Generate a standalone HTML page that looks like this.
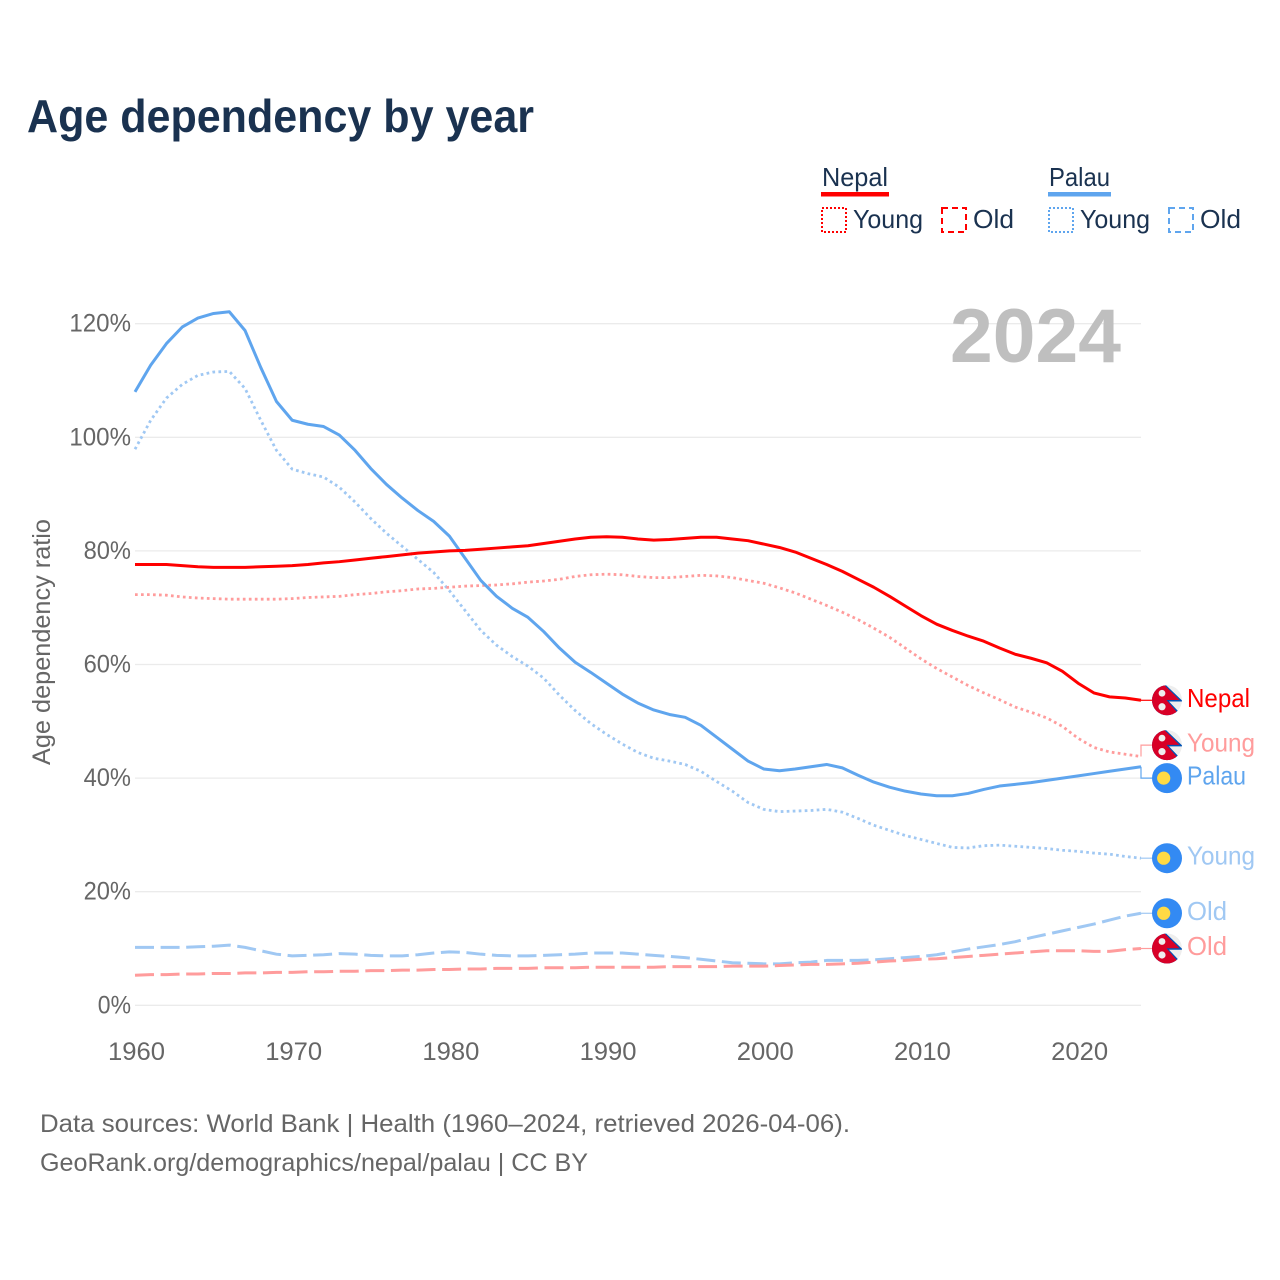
<!DOCTYPE html>
<html lang="en">
<head>
<meta charset="utf-8">
<title>Age dependency by year</title>
<style>
html,body{margin:0;padding:0;background:#fff;}
svg{display:block;font-family:"Liberation Sans",sans-serif;}
</style>
</head>
<body>
<svg id="chart" xmlns="http://www.w3.org/2000/svg" width="1280" height="1280" viewBox="0 0 1280 1280">
  <rect width="1280" height="1280" fill="#fff"/>
  <text x="27" y="132" font-size="46" font-weight="700" fill="#1a3250" textLength="507" lengthAdjust="spacingAndGlyphs">Age dependency by year</text>

  <g font-size="26" fill="#1a3250">
    <text x="822" y="186" textLength="66" lengthAdjust="spacingAndGlyphs">Nepal</text>
    <rect x="821" y="192" width="68" height="4.5" fill="#ff0000"/>
    <rect x="822" y="208" width="24" height="24" fill="none" stroke="#ff0000" stroke-width="2" stroke-dasharray="2 2"/>
    <text x="853" y="228" textLength="70" lengthAdjust="spacingAndGlyphs">Young</text>
    <rect x="942" y="208" width="24" height="24" fill="none" stroke="#ff0000" stroke-width="2" stroke-dasharray="6 4"/>
    <text x="973" y="228" textLength="41" lengthAdjust="spacingAndGlyphs">Old</text>
    <text x="1049" y="186" textLength="61" lengthAdjust="spacingAndGlyphs">Palau</text>
    <rect x="1048" y="192" width="63" height="4.5" fill="#5fa5ee"/>
    <rect x="1049" y="208" width="24" height="24" fill="none" stroke="#5fa5ee" stroke-width="2" stroke-dasharray="2 2"/>
    <text x="1080" y="228" textLength="70" lengthAdjust="spacingAndGlyphs">Young</text>
    <rect x="1169" y="208" width="24" height="24" fill="none" stroke="#5fa5ee" stroke-width="2" stroke-dasharray="6 4"/>
    <text x="1200" y="228" textLength="41" lengthAdjust="spacingAndGlyphs">Old</text>
  </g>

  <g id="grid"></g>
  <text x="950" y="362" font-size="76" font-weight="700" fill="#bfbfbf" textLength="171" lengthAdjust="spacingAndGlyphs">2024</text>
  <g id="yticks" font-size="25" fill="#666"></g>
  <g id="xticks" font-size="25" fill="#666"></g>
  <text transform="translate(50,642) rotate(-90)" text-anchor="middle" font-size="25" fill="#666" textLength="246" lengthAdjust="spacingAndGlyphs">Age dependency ratio</text>
  <g id="series" fill="none"></g>
  <g id="endlabels"></g>

  <g font-size="25" fill="#666">
    <text x="40" y="1132" textLength="810" lengthAdjust="spacingAndGlyphs">Data sources: World Bank | Health (1960–2024, retrieved 2026-04-06).</text>
    <text x="40" y="1171" textLength="548" lengthAdjust="spacingAndGlyphs">GeoRank.org/demographics/nepal/palau | CC BY</text>
  </g>
</svg>
<script>
const years = [1960,1961,1962,1963,1964,1965,1966,1967,1968,1969,1970,1971,1972,1973,1974,1975,1976,1977,1978,1979,1980,1981,1982,1983,1984,1985,1986,1987,1988,1989,1990,1991,1992,1993,1994,1995,1996,1997,1998,1999,2000,2001,2002,2003,2004,2005,2006,2007,2008,2009,2010,2011,2012,2013,2014,2015,2016,2017,2018,2019,2020,2021,2022,2023,2024];
const xTickLabels = [1960,1970,1980,1990,2000,2010,2020];
const yTickLabels = [0,20,40,60,80,100,120];

const nepalTotal = [77.6,77.6,77.6,77.4,77.2,77.1,77.1,77.1,77.2,77.3,77.4,77.6,77.9,78.1,78.4,78.7,79.0,79.3,79.6,79.8,80.0,80.1,80.3,80.5,80.7,80.9,81.3,81.7,82.1,82.4,82.5,82.4,82.1,81.9,82.0,82.2,82.4,82.4,82.1,81.8,81.2,80.6,79.8,78.7,77.6,76.4,75.0,73.6,72.0,70.3,68.6,67.1,66.0,65.0,64.1,62.9,61.8,61.1,60.3,58.8,56.7,55.0,54.3,54.1,53.7];
const nepalYoung = [72.3,72.3,72.2,71.9,71.7,71.6,71.5,71.5,71.5,71.5,71.6,71.8,71.9,72.0,72.3,72.5,72.8,73.0,73.3,73.4,73.6,73.8,73.9,74.0,74.2,74.5,74.7,75.0,75.5,75.8,75.9,75.8,75.5,75.3,75.3,75.5,75.7,75.6,75.3,74.8,74.3,73.5,72.6,71.5,70.4,69.2,67.9,66.4,64.8,62.9,61.0,59.3,57.8,56.3,55.0,53.8,52.5,51.6,50.6,49.1,47.0,45.4,44.6,44.2,43.8];
const nepalOld = [5.3,5.4,5.4,5.5,5.5,5.6,5.6,5.7,5.7,5.8,5.8,5.9,5.9,6.0,6.0,6.1,6.1,6.2,6.2,6.3,6.3,6.4,6.4,6.5,6.5,6.5,6.6,6.6,6.6,6.7,6.7,6.7,6.7,6.7,6.8,6.8,6.8,6.8,6.9,6.9,6.9,7.0,7.1,7.2,7.2,7.3,7.4,7.6,7.8,7.9,8.1,8.2,8.4,8.6,8.8,9.0,9.2,9.4,9.6,9.6,9.6,9.5,9.5,9.8,10.0];
const palauTotal = [108.0,112.7,116.5,119.4,121.0,121.8,122.1,118.8,112.3,106.3,103.0,102.3,101.9,100.4,97.7,94.5,91.7,89.3,87.1,85.2,82.6,78.7,74.8,72.0,69.9,68.3,65.8,62.9,60.4,58.6,56.7,54.8,53.2,52.0,51.2,50.7,49.3,47.2,45.1,43.0,41.6,41.3,41.6,42.0,42.4,41.8,40.5,39.3,38.4,37.7,37.2,36.9,36.9,37.3,38.0,38.6,38.9,39.2,39.6,40.0,40.4,40.8,41.2,41.6,42.0];
const palauYoung = [97.9,103.0,106.9,109.3,110.9,111.5,111.6,108.6,103.0,97.7,94.4,93.6,93.0,91.2,88.6,85.7,83.1,80.8,78.5,76.2,73.0,69.5,66.0,63.4,61.4,59.7,57.6,54.6,51.9,49.6,47.7,46.0,44.5,43.5,43.0,42.4,41.2,39.4,37.7,35.7,34.5,34.1,34.2,34.3,34.5,34.0,32.9,31.7,30.8,29.9,29.2,28.5,27.8,27.7,28.1,28.2,28.0,27.8,27.6,27.3,27.1,26.8,26.6,26.2,25.9];
const palauOld = [10.2,10.2,10.2,10.2,10.3,10.4,10.6,10.2,9.6,9.0,8.7,8.8,8.9,9.1,9.0,8.8,8.7,8.7,8.9,9.2,9.4,9.3,9.0,8.8,8.7,8.7,8.8,8.9,9.0,9.2,9.2,9.2,9.0,8.8,8.6,8.4,8.1,7.8,7.5,7.4,7.3,7.3,7.5,7.6,7.9,7.9,7.9,8.0,8.2,8.4,8.6,8.9,9.4,9.9,10.3,10.7,11.2,11.9,12.5,13.1,13.7,14.3,15.0,15.7,16.2];

const NS = 'http://www.w3.org/2000/svg';
const xLeft = 135, xRight = 1141, yZero = 1005.3, yPerUnit = 5.68;
function xScale(year) { return xLeft + (year - years[0]) * (xRight - xLeft) / (years[years.length - 1] - years[0]); }
function yScale(value) { return yZero - value * yPerUnit; }
function make(parent, tag, attrs, text) {
  const el = document.createElementNS(NS, tag);
  for (const k in attrs) el.setAttribute(k, attrs[k]);
  if (text !== undefined) el.textContent = text;
  parent.appendChild(el);
  return el;
}

const gridG = document.getElementById('grid');
const yG = document.getElementById('yticks');
const xG = document.getElementById('xticks');
const seriesG = document.getElementById('series');
const endG = document.getElementById('endlabels');

yTickLabels.forEach(function (t) {
  const line = make(gridG, 'line', {x1: xLeft, x2: xRight, y1: yScale(t), y2: yScale(t), stroke: '#ebebeb', 'stroke-width': 1.3});
  
  
  const label = make(yG, 'text', {x: 131, y: yScale(t) + 8, 'text-anchor': 'end', textLength: String(t).length * 14.2 + 19, lengthAdjust: 'spacingAndGlyphs'}, t + '%');
  
  
});

xTickLabels.forEach(function (t) {
  const label = make(xG, 'text', {x: xScale(t) + 1.5, y: 1060, 'text-anchor': 'middle', textLength: 57, lengthAdjust: 'spacingAndGlyphs'}, t);
  
  
});

const seriesList = [
  {id: 'palau-old', values: palauOld, color: '#a0c8f3', dash: '19 6.6', width: 3, label: 'Old', labelW: 40, flag: 'palau'},
  {id: 'nepal-old', values: nepalOld, color: '#ff9c9c', dash: '19 6.6', width: 3, label: 'Old', labelW: 40, flag: 'nepal'},
  {id: 'palau-young', values: palauYoung, color: '#a0c8f3', dash: '2.7 3.3', width: 2.8, label: 'Young', labelW: 68, flag: 'palau'},
  {id: 'nepal-young', values: nepalYoung, color: '#ff9c9c', dash: '2.7 3.3', width: 2.8, label: 'Young', labelW: 68, flag: 'nepal'},
  {id: 'palau-total', values: palauTotal, color: '#5fa5ee', dash: '', width: 3, label: 'Palau', labelW: 59, flag: 'palau'},
  {id: 'nepal-total', values: nepalTotal, color: '#ff0000', dash: '', width: 3, label: 'Nepal', labelW: 63, flag: 'nepal'}
];

seriesList.forEach(function (s) {
  const pts = s.values.map(function (v, i) { return xScale(years[i]).toFixed(2) + ',' + yScale(v).toFixed(2); }).join(' ');
  const attrs = {points: pts, stroke: s.color, 'stroke-width': s.width, 'stroke-linejoin': 'round'};
  if (s.dash) attrs['stroke-dasharray'] = s.dash;
  const line = make(seriesG, 'polyline', attrs);
  
  
});

/* End-label layout: labels start at their line's final value and push apart when closer than the minimum gap. */
const minGap = 33;
const placed = seriesList.map(function (s) {
  const endY = yScale(s.values[s.values.length - 1]);
  return {s: s, endY: endY, labelY: endY};
}).sort(function (a, b) { return a.endY - b.endY; });
for (let i = 1; i < placed.length; i++) {
  const gap = placed[i].labelY - placed[i - 1].labelY;
  if (gap < minGap) {
    const push = (minGap - gap) / 2;
    placed[i - 1].labelY -= push;
    placed[i].labelY += push;
  }
}

const defs = make(document.getElementById('chart'), 'defs', {});
const clip = make(defs, 'clipPath', {id: 'flag-clip'});
make(clip, 'circle', {cx: 0, cy: 0, r: 15});

function drawFlag(kind, cy) {
  const g = make(endG, 'g', {transform: 'translate(1167,' + cy.toFixed(2) + ')', 'clip-path': 'url(#flag-clip)'});
  
  
  if (kind === 'nepal') {
    make(g, 'rect', {x: -16, y: -16, width: 32, height: 32, fill: '#eeeeee'});
    make(g, 'polygon', {points: '-16,-17 -3,-17 16,1.2 2,1.2 16,16 -16,17', fill: '#0052b4'});
    make(g, 'polygon', {points: '-16,-17 -4.5,-17 12.5,-0.3 -0.5,-0.3 13.5,16 -16,17', fill: '#d80027'});
    make(g, 'circle', {cx: -5, cy: -7, r: 3.4, fill: '#eeeeee'});
    make(g, 'circle', {cx: -5, cy: 6.5, r: 3.6, fill: '#eeeeee'});
  } else {
    make(g, 'rect', {x: -16, y: -16, width: 32, height: 32, fill: '#338af3'});
    make(g, 'circle', {cx: -3.3, cy: 0, r: 6.6, fill: '#ffda44'});
  }
}

placed.forEach(function (p) {
  const d = 'M' + xRight + ' ' + p.endY.toFixed(2) + ' V' + p.labelY.toFixed(2) + ' H1152';
  const conn = make(endG, 'path', {d: d, fill: 'none', stroke: p.s.color, 'stroke-width': 1.2});
  
  
  drawFlag(p.s.flag, p.labelY);
  const label = make(endG, 'text', {x: 1187, y: p.labelY + 6.5, 'font-size': 26, fill: p.s.color, textLength: p.s.labelW, lengthAdjust: 'spacingAndGlyphs'}, p.s.label);
  
  
});
</script>
</body>
</html>
